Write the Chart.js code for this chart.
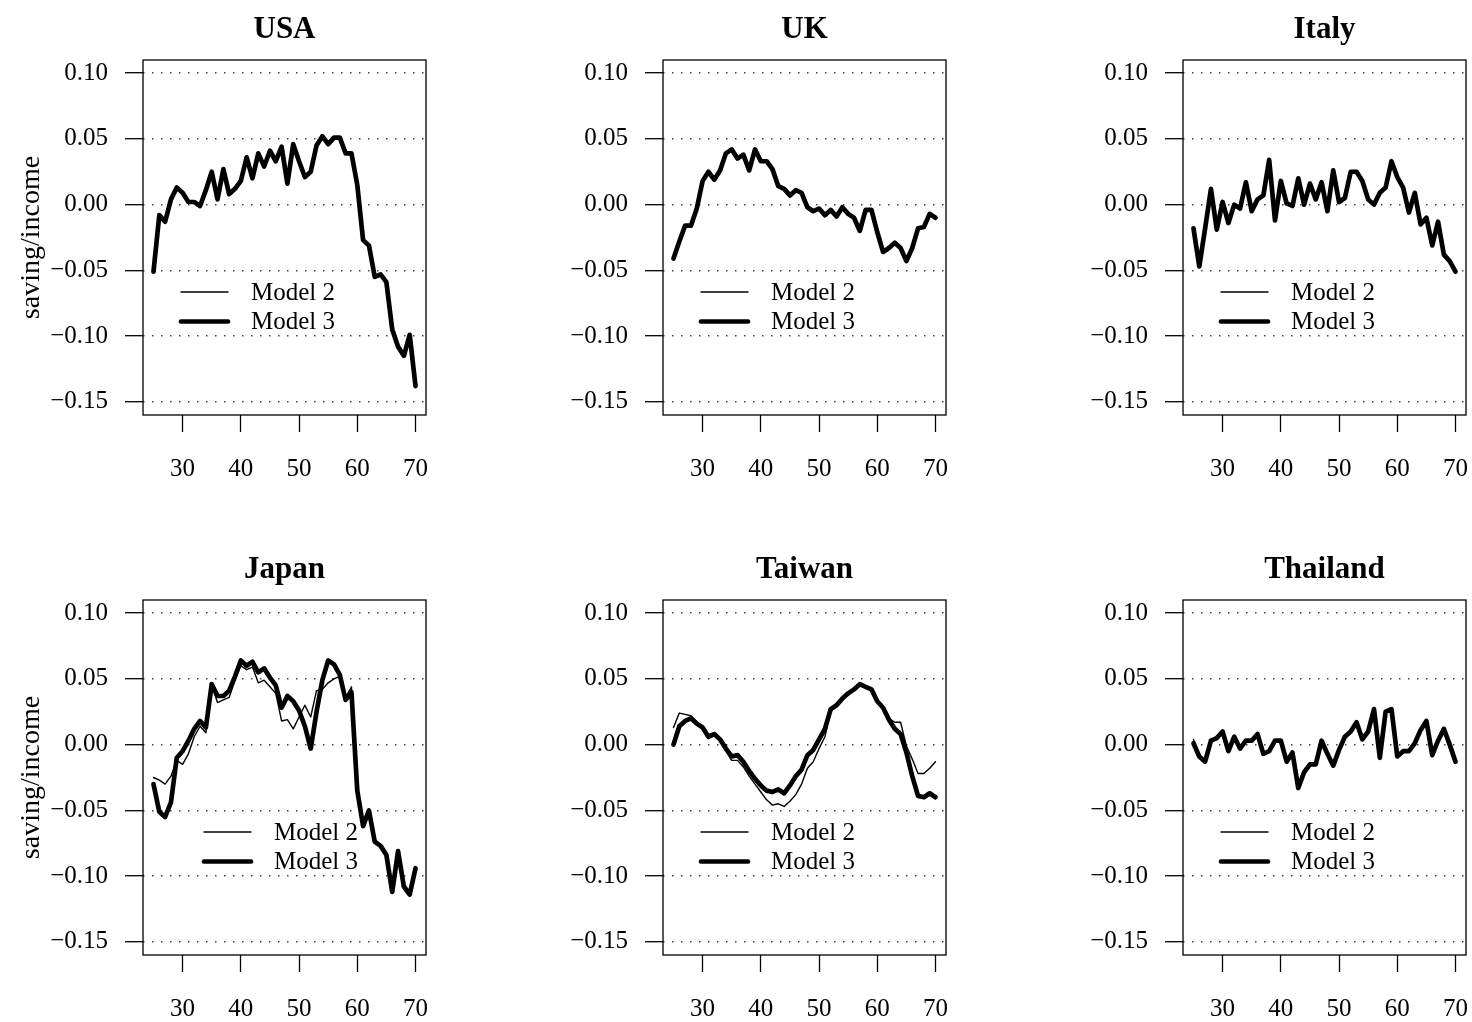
<!DOCTYPE html>
<html>
<head>
<meta charset="utf-8">
<script src="https://cdn.jsdelivr.net/npm/chart.js@4.4.1/dist/chart.umd.min.js"></script>
<style>
  html, body { margin: 0; padding: 0; background: #fff; width: 1472px; height: 1022px; overflow: hidden; }
  canvas { position: absolute; }
</style>
</head>
<body>
<script>
// Age axis (years) shared by every panel
const ages = [25, 26, 27, 28, 29, 30, 31, 32, 33, 34, 35, 36, 37, 38, 39, 40, 41, 42, 43, 44, 45, 46, 47,
              48, 49, 50, 51, 52, 53, 54, 55, 56, 57, 58, 59, 60, 61, 62, 63, 64, 65, 66, 67, 68, 69, 70];
const xTickValues = [30, 40, 50, 60, 70];
const yTickValues = [-0.15, -0.10, -0.05, 0.00, 0.05, 0.10];
const countries = ['USA', 'UK', 'Italy', 'Japan', 'Taiwan', 'Thailand'];
const seriesNames = ['Model 2', 'Model 3'];
const yAxisLabel = 'saving/income';

// Saving / income ratio by age
const usaModel2 = [-0.051, -0.008, -0.013, 0.004, 0.013, 0.009, 0.002, 0.002, -0.001, 0.011, 0.025, 0.004, 0.027, 0.008, 0.012, 0.018,
  0.036, 0.020, 0.039, 0.029, 0.041, 0.033, 0.044, 0.016, 0.046, 0.033, 0.021, 0.025, 0.045, 0.052, 0.046, 0.051, 0.051, 0.039,
  0.039, 0.015, -0.027, -0.031, -0.055, -0.053, -0.059, -0.095, -0.108, -0.115, -0.099, -0.138];
const usaModel3 = [-0.051, -0.008, -0.013, 0.004, 0.013, 0.009, 0.002, 0.002, -0.001, 0.011, 0.025, 0.004, 0.027, 0.008, 0.012, 0.018,
  0.036, 0.020, 0.039, 0.029, 0.041, 0.033, 0.044, 0.016, 0.046, 0.033, 0.021, 0.025, 0.045, 0.052, 0.046, 0.051, 0.051, 0.039,
  0.039, 0.015, -0.027, -0.031, -0.055, -0.053, -0.059, -0.095, -0.108, -0.115, -0.099, -0.138];

const ukModel2 = [-0.041, -0.028, -0.016, -0.016, -0.003, 0.018, 0.025, 0.019, 0.026, 0.039, 0.042, 0.035, 0.038, 0.026, 0.042, 0.033,
  0.033, 0.027, 0.014, 0.012, 0.007, 0.011, 0.009, -0.002, -0.005, -0.003, -0.008, -0.004, -0.009, -0.002, -0.007, -0.010, -0.020,
  -0.004, -0.004, -0.021, -0.036, -0.033, -0.029, -0.033, -0.043, -0.033, -0.018, -0.017, -0.007, -0.010];
const ukModel3 = [-0.041, -0.028, -0.016, -0.016, -0.003, 0.018, 0.025, 0.019, 0.026, 0.039, 0.042, 0.035, 0.038, 0.026, 0.042, 0.033,
  0.033, 0.027, 0.014, 0.012, 0.007, 0.011, 0.009, -0.002, -0.005, -0.003, -0.008, -0.004, -0.009, -0.002, -0.007, -0.010, -0.020,
  -0.004, -0.004, -0.021, -0.036, -0.033, -0.029, -0.033, -0.043, -0.033, -0.018, -0.017, -0.007, -0.010];

const italyModel2 = [-0.018, -0.047, -0.018, 0.012, -0.019, 0.002, -0.014, 0.000, -0.003, 0.017, -0.005, 0.004, 0.007, 0.034, -0.012,
  0.018, 0.001, -0.001, 0.020, 0.000, 0.016, 0.004, 0.017, -0.005, 0.026, 0.002, 0.005, 0.025, 0.025, 0.018, 0.004, 0.000, 0.009,
  0.013, 0.033, 0.021, 0.013, -0.006, 0.009, -0.015, -0.010, -0.031, -0.013, -0.038, -0.043, -0.051];
const italyModel3 = [-0.018, -0.047, -0.018, 0.012, -0.019, 0.002, -0.014, 0.000, -0.003, 0.017, -0.005, 0.004, 0.007, 0.034, -0.012,
  0.018, 0.001, -0.001, 0.020, 0.000, 0.016, 0.004, 0.017, -0.005, 0.026, 0.002, 0.005, 0.025, 0.025, 0.018, 0.004, 0.000, 0.009,
  0.013, 0.033, 0.021, 0.013, -0.006, 0.009, -0.015, -0.010, -0.031, -0.013, -0.038, -0.043, -0.051];

const japanModel2 = [-0.025, -0.027, -0.030, -0.024, -0.012, -0.015, -0.007, 0.006, 0.014, 0.009, 0.045, 0.032, 0.034, 0.036, 0.049,
  0.060, 0.057, 0.059, 0.047, 0.049, 0.044, 0.039, 0.018, 0.019, 0.012, 0.021, 0.030, 0.021, 0.041, 0.042, 0.047, 0.050, 0.052,
  0.036, 0.044, -0.035, -0.060, -0.051, -0.072, -0.076, -0.083, -0.111, -0.082, -0.106, -0.112, -0.094];
const japanModel3 = [-0.030, -0.051, -0.055, -0.044, -0.010, -0.005, 0.003, 0.012, 0.018, 0.013, 0.046, 0.037, 0.037, 0.041, 0.052,
  0.064, 0.060, 0.063, 0.055, 0.058, 0.051, 0.045, 0.028, 0.037, 0.033, 0.026, 0.014, -0.003, 0.025, 0.049, 0.064, 0.061, 0.053,
  0.034, 0.040, -0.035, -0.062, -0.050, -0.074, -0.077, -0.084, -0.112, -0.081, -0.108, -0.114, -0.094];

const taiwanModel2 = [0.013, 0.024, 0.023, 0.022, 0.017, 0.014, 0.006, 0.008, 0.003, -0.005, -0.012, -0.012, -0.017, -0.024, -0.030,
  -0.036, -0.042, -0.046, -0.045, -0.047, -0.043, -0.038, -0.030, -0.018, -0.013, -0.003, 0.006, 0.025, 0.030, 0.035, 0.039, 0.042,
  0.046, 0.044, 0.041, 0.034, 0.029, 0.020, 0.017, 0.017, -0.001, -0.011, -0.022, -0.022, -0.018, -0.013];
const taiwanModel3 = [0.000, 0.014, 0.018, 0.020, 0.016, 0.013, 0.006, 0.008, 0.004, -0.003, -0.009, -0.008, -0.013, -0.020, -0.026,
  -0.031, -0.035, -0.036, -0.034, -0.037, -0.031, -0.024, -0.019, -0.008, -0.004, 0.004, 0.012, 0.027, 0.030, 0.035, 0.039, 0.042,
  0.046, 0.044, 0.042, 0.033, 0.028, 0.019, 0.012, 0.008, -0.006, -0.024, -0.039, -0.040, -0.037, -0.040];

const thailandModel2 = [0.004, -0.009, -0.013, 0.003, 0.005, 0.010, -0.005, 0.006, -0.003, 0.003, 0.003, 0.008, -0.007, -0.005, 0.003,
  0.003, -0.013, -0.006, -0.033, -0.021, -0.015, -0.015, 0.003, -0.007, -0.016, -0.004, 0.006, 0.010, 0.017, 0.004, 0.010, 0.027,
  -0.010, 0.025, 0.027, -0.009, -0.005, -0.005, 0.001, 0.011, 0.018, -0.008, 0.003, 0.012, 0.000, -0.013];
const thailandModel3 = [0.001, -0.009, -0.013, 0.003, 0.005, 0.010, -0.005, 0.006, -0.003, 0.003, 0.003, 0.008, -0.007, -0.005, 0.003,
  0.003, -0.013, -0.006, -0.033, -0.021, -0.015, -0.015, 0.003, -0.007, -0.016, -0.004, 0.006, 0.010, 0.017, 0.004, 0.010, 0.027,
  -0.010, 0.025, 0.027, -0.009, -0.005, -0.005, 0.001, 0.011, 0.018, -0.008, 0.003, 0.012, 0.000, -0.013];

const model2Series = [usaModel2, ukModel2, italyModel2, japanModel2, taiwanModel2, thailandModel2];
const model3Series = [usaModel3, ukModel3, italyModel3, japanModel3, taiwanModel3, thailandModel3];

// ---- layout (pixels) ----
const FONT = '"Liberation Serif", "Times New Roman", serif';
const BOX_LEFTS = [143, 663, 1183];
const BOX_TOPS = [60, 600];
const BOX_W = 283, BOX_H = 355;
const AXIS_W = 143, AXIS_H = 66, TOP_PAD = 60, RIGHT_PAD = 6;
const LEGEND_SHIFT = [0, 0, 0, 23, 0, 0];   // Japan's key sits further right

const fmtY = v => (Math.abs(v) < 1e-9 ? 0 : v).toFixed(2).replace('-', '\u2212');

// Frame, panel title and line key drawn around/inside the plotting region
const framePlugin = {
  id: 'frame',
  afterDraw(chart, args, opts) {
    const { ctx, chartArea: a } = chart;
    ctx.save();
    ctx.strokeStyle = '#000';
    ctx.lineWidth = 1.3;
    ctx.strokeRect(a.left, a.top, a.right - a.left, a.bottom - a.top);

    ctx.fillStyle = '#000';
    ctx.textAlign = 'center';
    ctx.textBaseline = 'middle';
    ctx.font = 'bold 31px ' + FONT;
    ctx.fillText(opts.title, (a.left + a.right) / 2, a.top - 30.5);

    const lx = a.left + 38 + opts.shift;
    const rows = [a.top + 232, a.top + 261.5];
    chart.data.datasets.forEach((ds, i) => {
      ctx.beginPath();
      ctx.lineCap = 'round';
      ctx.lineWidth = ds.borderWidth;
      ctx.moveTo(lx, rows[i]);
      ctx.lineTo(lx + 47, rows[i]);
      ctx.stroke();
      ctx.font = '25px ' + FONT;
      ctx.textAlign = 'left';
      ctx.fillText(ds.label, lx + 70, rows[i] + 1);
    });
    ctx.restore();
  }
};

countries.forEach((name, k) => {
  const row = Math.floor(k / 3), col = k % 3;
  const canvas = document.createElement('canvas');
  const w = AXIS_W + BOX_W + RIGHT_PAD, h = TOP_PAD + BOX_H + AXIS_H;
  canvas.width = w; canvas.height = h;
  canvas.style.width = w + 'px'; canvas.style.height = h + 'px';
  canvas.style.left = (BOX_LEFTS[col] - AXIS_W) + 'px';
  canvas.style.top = (BOX_TOPS[row] - TOP_PAD) + 'px';
  document.body.appendChild(canvas);

  const series = [model2Series[k], model3Series[k]];
  const widths = [1.4, 4.7];

  new Chart(canvas, {
    type: 'line',
    data: {
      datasets: series.map((vals, i) => ({
        label: seriesNames[i],
        data: ages.map((a, j) => ({ x: a, y: vals[j] })),
        borderColor: '#000',
        borderWidth: widths[i],
        borderJoinStyle: 'round',
        borderCapStyle: 'round',
        pointRadius: 0,
        tension: 0,
        fill: false
      }))
    },
    options: {
      responsive: false,
      animation: false,
      devicePixelRatio: 1,
      layout: { padding: { top: TOP_PAD, left: 0, right: RIGHT_PAD, bottom: 0 } },
      plugins: {
        legend: { display: false },
        tooltip: { enabled: false },
        title: { display: false },
        frame: { title: name, shift: LEGEND_SHIFT[k] }
      },
      scales: {
        x: {
          type: 'linear',
          min: 23.2, max: 71.8,
          afterBuildTicks: s => { s.ticks = xTickValues.map(v => ({ value: v })); },
          afterFit: s => { s.height = AXIS_H; s.paddingLeft = 0; s.paddingRight = 0; },
          border: { display: false },
          grid: { drawOnChartArea: false, drawTicks: true, tickLength: 17, tickColor: '#000', tickWidth: 1.3 },
          ticks: { color: '#000', font: { family: FONT, size: 25 }, padding: 22, maxRotation: 0, autoSkip: false,
                   callback: v => String(v) }
        },
        y: {
          type: 'linear',
          min: -0.16, max: 0.11,
          afterBuildTicks: s => { s.ticks = yTickValues.map(v => ({ value: v })); },
          afterFit: s => { s.width = AXIS_W; s.paddingTop = 0; s.paddingBottom = 0; },
          border: { display: false, dash: [1.5, 7.5] },
          grid: { color: '#444', lineWidth: 1.4, drawTicks: true, tickLength: 18,
                  tickColor: '#000', tickWidth: 1.3, tickBorderDash: [] },
          ticks: { color: '#000', font: { family: FONT, size: 25 }, padding: 17, autoSkip: false, callback: v => fmtY(v) },
          title: { display: col === 0, text: yAxisLabel, color: '#000', font: { family: FONT, size: 28 },
                   padding: { top: 15, bottom: 0 } }
        }
      }
    },
    plugins: [framePlugin]
  });
});
</script>
</body>
</html>
